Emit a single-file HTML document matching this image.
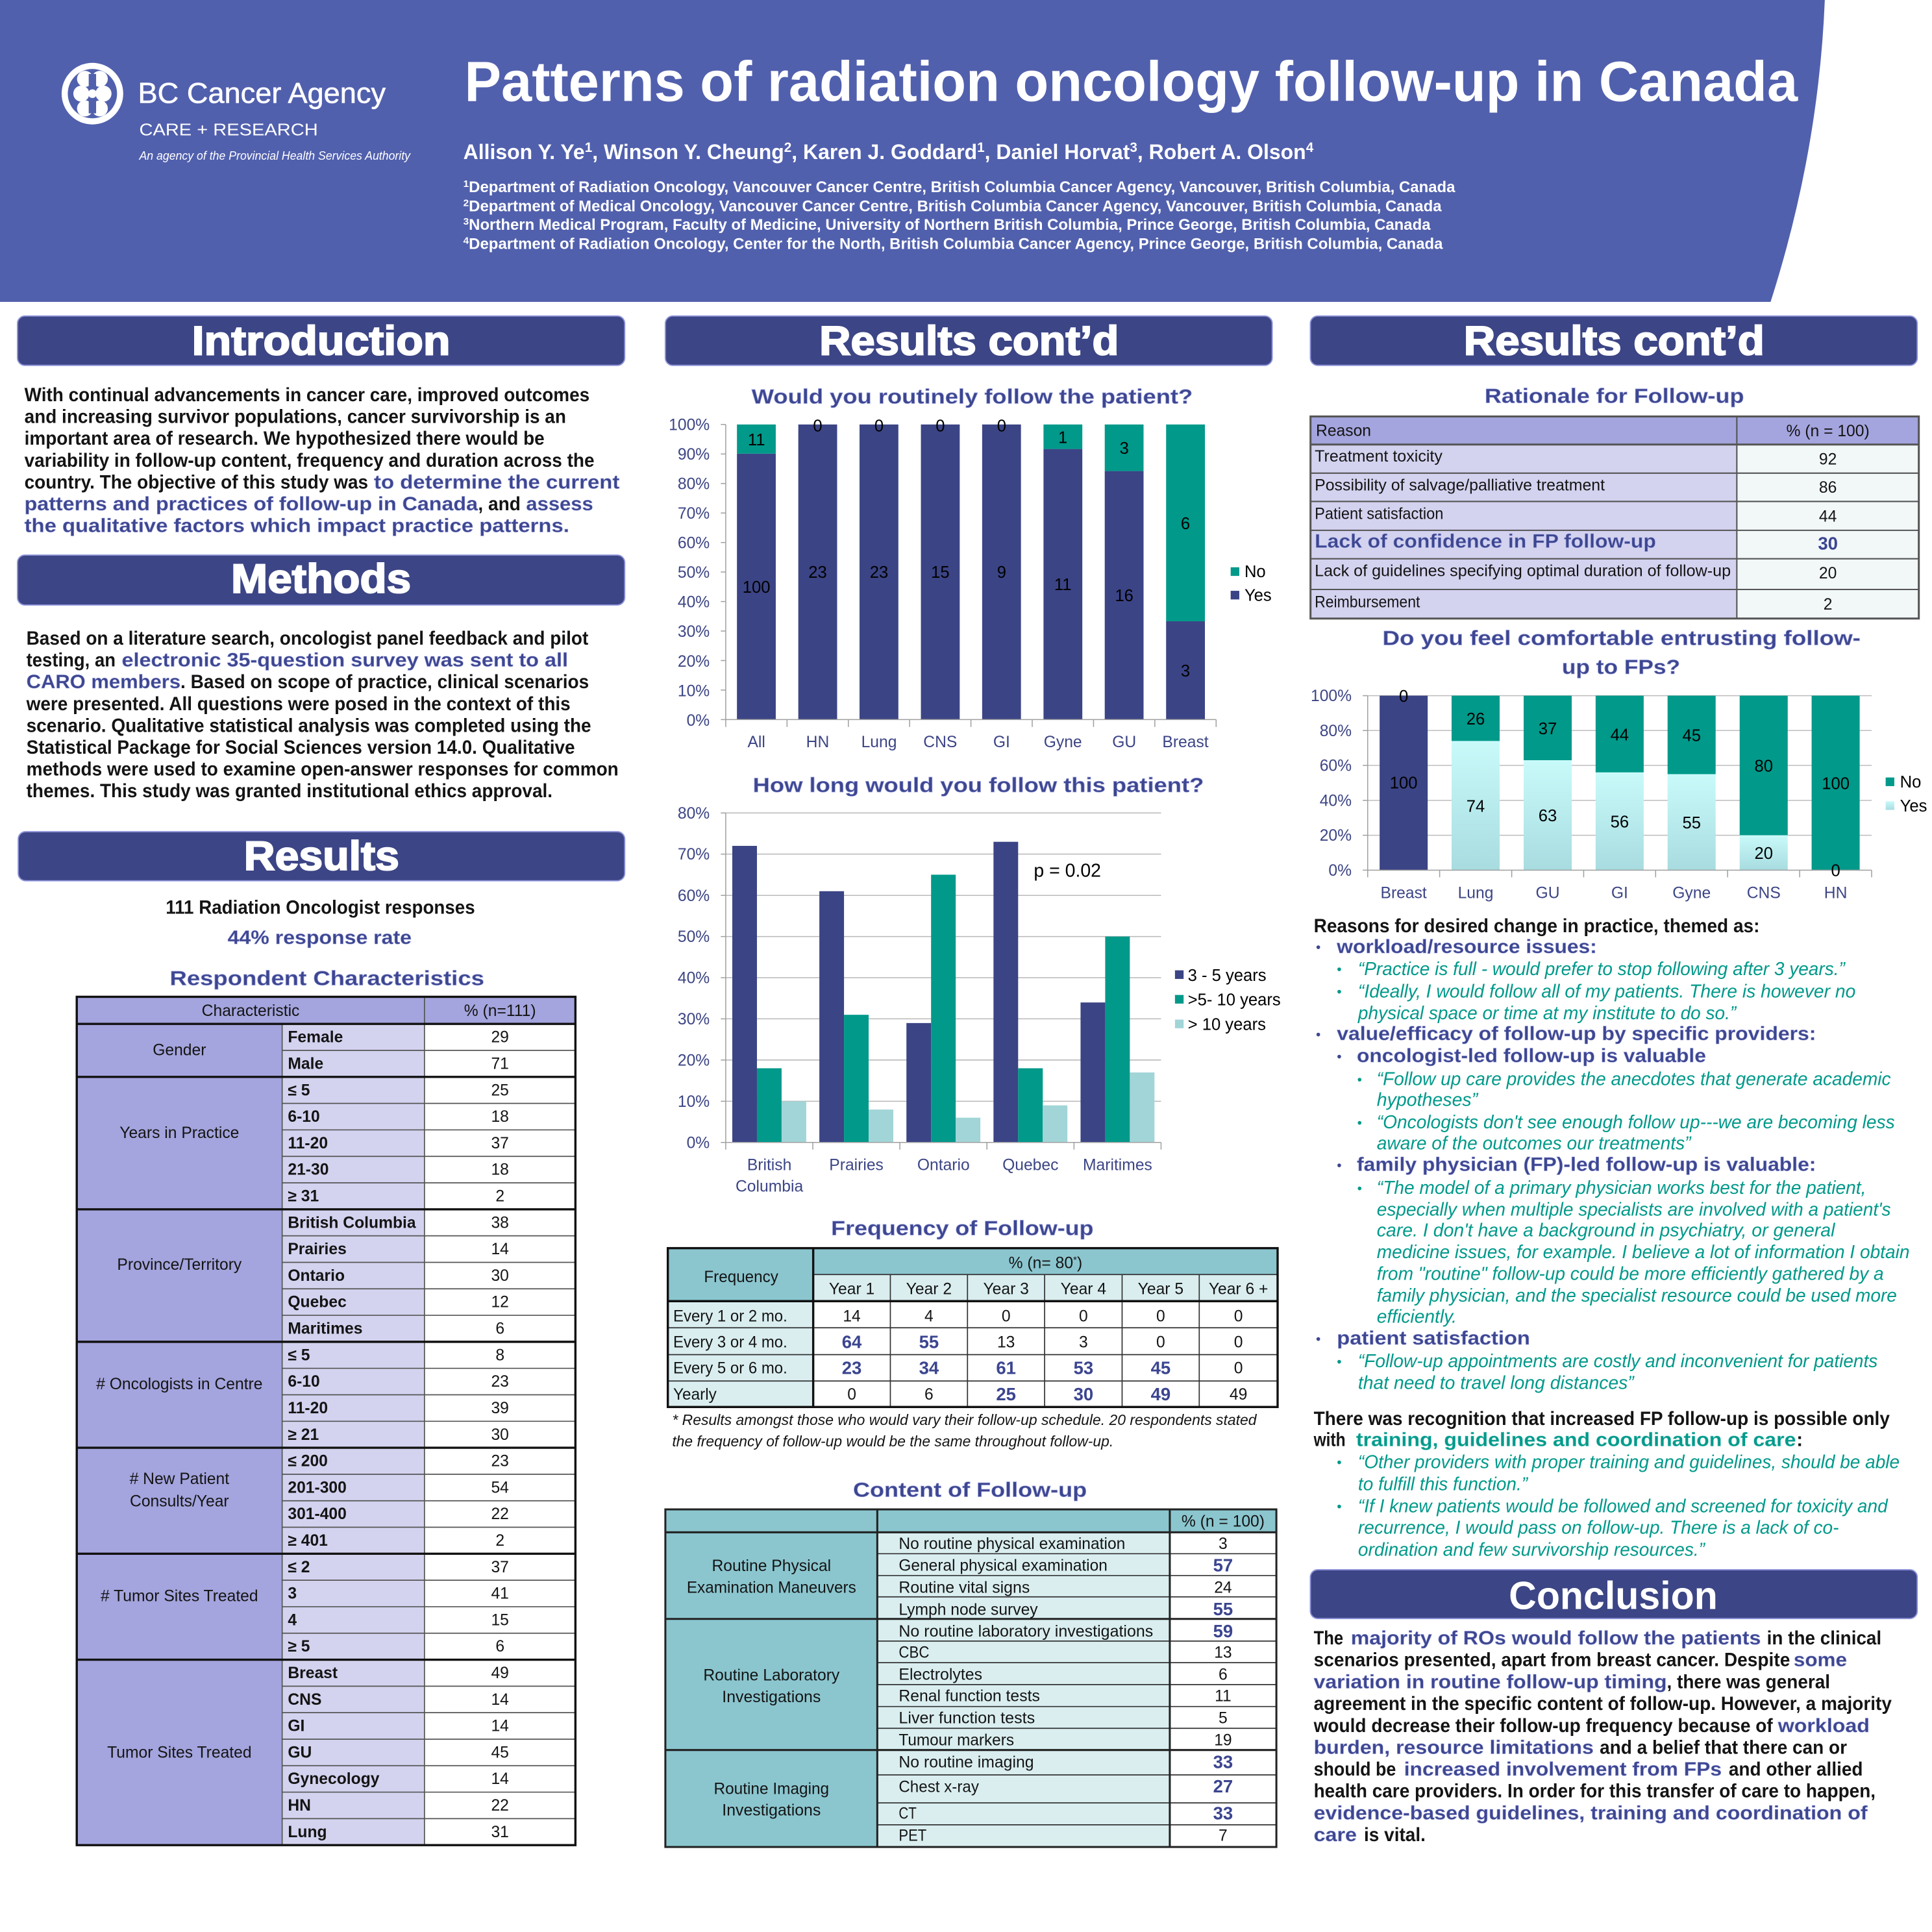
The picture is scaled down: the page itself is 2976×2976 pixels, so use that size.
<!DOCTYPE html>
<html><head><meta charset="utf-8"><style>
html,body{margin:0;padding:0;background:#fff;}
body{width:2976px;height:2976px;overflow:hidden;}
svg{display:block;}
text{font-family:"Liberation Sans",Arial,sans-serif;}
.b{font-weight:bold;fill:#141414;font-size:15.5px;}
.h{font-weight:bold;fill:#3d468f;font-size:15.5px;stroke:#9aa0dc;stroke-width:0.3px;}
.g{font-weight:bold;fill:#00998a;font-size:15.5px;stroke:#7fd0c8;stroke-width:0.3px;}
.q{font-style:italic;fill:#00998a;font-size:15px;}
.t{font-size:13px;fill:#141414;}
.tb{font-size:13px;fill:#141414;font-weight:bold;}
.v{font-size:14.5px;fill:#3b4590;font-weight:bold;}
.ax{font-size:13px;fill:#3c4585;}
.dl{font-size:13.5px;fill:#000;}
.sec{font-weight:bold;fill:#fff;font-size:33px;stroke:#fff;stroke-width:1.1px;}
.ttl{font-weight:bold;fill:#3d468f;font-size:16.5px;stroke:#9aa0dc;stroke-width:0.35px;}
</style></head><body>
<svg width="2976" height="2976" viewBox="0 0 1568 1568" xmlns="http://www.w3.org/2000/svg">
<defs>
<linearGradient id="yg" x1="0" y1="0" x2="0" y2="1"><stop offset="0" stop-color="#c9fafa"/><stop offset="1" stop-color="#a8dce0"/></linearGradient>
</defs>
<rect x="0" y="0" width="1568" height="1568" fill="#fff"/>

<!-- HEADER -->
<path d="M0 0 H1481 Q1476 123 1437 245 H0 Z" fill="#5160ad"/>
<circle cx="75" cy="76" r="25" fill="#fff"/>
<circle cx="75" cy="76" r="20" fill="#5160ad"/>
<circle cx="69" cy="64" r="6.5" fill="#fff"/>
<circle cx="81" cy="64" r="6.5" fill="#fff"/>
<circle cx="66" cy="76" r="6.5" fill="#fff"/>
<circle cx="84" cy="76" r="6.5" fill="#fff"/>
<circle cx="69" cy="88" r="6.5" fill="#fff"/>
<circle cx="81" cy="88" r="6.5" fill="#fff"/>
<rect x="72" y="60" width="6" height="32" fill="#5160ad"/>
<circle cx="75" cy="76" r="3.5" fill="#fff"/>
<text x="112" y="83.5" font-size="23.5" fill="#fff" stroke="#fff" stroke-width="0.3" textLength="201" lengthAdjust="spacingAndGlyphs">BC Cancer Agency</text>
<text x="113" y="109.8" font-size="13.5" fill="#fff" textLength="145" lengthAdjust="spacingAndGlyphs">CARE + RESEARCH</text>
<text x="113" y="129.5" font-size="9.5" font-style="italic" fill="#fff" textLength="220" lengthAdjust="spacingAndGlyphs">An agency of the Provincial Health Services Authority</text>

<text x="377" y="82" font-size="46" font-weight="bold" fill="#fff" textLength="1082" lengthAdjust="spacingAndGlyphs">Patterns of radiation oncology follow-up in Canada</text>
<text x="376" y="129" font-size="17" font-weight="bold" fill="#fff" textLength="690" lengthAdjust="spacingAndGlyphs">Allison Y. Ye<tspan font-size="11" baseline-shift="super">1</tspan>, Winson Y. Cheung<tspan font-size="11" baseline-shift="super">2</tspan>, Karen J. Goddard<tspan font-size="11" baseline-shift="super">1</tspan>, Daniel Horvat<tspan font-size="11" baseline-shift="super">3</tspan>, Robert A. Olson<tspan font-size="11" baseline-shift="super">4</tspan></text>
<text x="376" y="156" font-size="12.5" font-weight="bold" fill="#fff" textLength="805" lengthAdjust="spacingAndGlyphs"><tspan font-size="8" baseline-shift="super">1</tspan>Department of Radiation Oncology, Vancouver Cancer Centre, British Columbia Cancer Agency, Vancouver, British Columbia, Canada</text>
<text x="376" y="171.5" font-size="12.5" font-weight="bold" fill="#fff" textLength="794" lengthAdjust="spacingAndGlyphs"><tspan font-size="8" baseline-shift="super">2</tspan>Department of Medical Oncology, Vancouver Cancer Centre, British Columbia Cancer Agency, Vancouver, British Columbia, Canada</text>
<text x="376" y="186.5" font-size="12.5" font-weight="bold" fill="#fff" textLength="785" lengthAdjust="spacingAndGlyphs"><tspan font-size="8" baseline-shift="super">3</tspan>Northern Medical Program, Faculty of Medicine, University of Northern British Columbia, Prince George, British Columbia, Canada</text>
<text x="376" y="202" font-size="12.5" font-weight="bold" fill="#fff" textLength="795" lengthAdjust="spacingAndGlyphs"><tspan font-size="8" baseline-shift="super">4</tspan>Department of Radiation Oncology, Center for the North, British Columbia Cancer Agency, Prince George, British Columbia, Canada</text>

<!-- SECTION HEADERS -->
<g fill="#3c4585" stroke="#8d93d8" stroke-width="1">
<rect x="14.2" y="256.5" width="492.8" height="40" rx="6"/>
<rect x="14.2" y="450.5" width="492.8" height="40.5" rx="6"/>
<rect x="14.8" y="675" width="492.2" height="39.8" rx="6"/>
<rect x="540" y="256.5" width="492.5" height="40" rx="6"/>
<rect x="1063.5" y="256.5" width="492.5" height="40" rx="6"/>
<rect x="1063.5" y="1274" width="492.5" height="39.6" rx="6"/>
</g>
<text class="sec" x="260.6" y="288" text-anchor="middle" textLength="209.7" lengthAdjust="spacingAndGlyphs">Introduction</text>
<text class="sec" x="260.6" y="481" text-anchor="middle" textLength="146" lengthAdjust="spacingAndGlyphs">Methods</text>
<text class="sec" x="261" y="706" text-anchor="middle" textLength="126" lengthAdjust="spacingAndGlyphs">Results</text>
<text class="sec" x="786.5" y="288" text-anchor="middle" textLength="243" lengthAdjust="spacingAndGlyphs">Results cont’d</text>
<text class="sec" x="1310" y="288" text-anchor="middle" textLength="244" lengthAdjust="spacingAndGlyphs">Results cont’d</text>
<text x="1309.3" y="1306" text-anchor="middle" font-size="32" font-weight="bold" fill="#fff" textLength="169.5" lengthAdjust="spacingAndGlyphs">Conclusion</text>

<!-- INTRODUCTION -->
<text class="b" x="19.8" y="325.6" textLength="458.7" lengthAdjust="spacingAndGlyphs">With continual advancements in cancer care, improved outcomes</text>
<text class="b" x="19.8" y="343.3" textLength="439.6" lengthAdjust="spacingAndGlyphs">and increasing survivor populations, cancer survivorship is an</text>
<text class="b" x="19.8" y="361" textLength="422.1" lengthAdjust="spacingAndGlyphs">important area of research. We hypothesized there would be</text>
<text class="b" x="19.8" y="378.7" textLength="462.6" lengthAdjust="spacingAndGlyphs">variability in follow-up content, frequency and duration across the</text>
<text class="b" x="19.8" y="396.4" textLength="279" lengthAdjust="spacingAndGlyphs">country. The objective of this study was</text>
<text class="h" x="303.5" y="396.4" textLength="199.3" lengthAdjust="spacingAndGlyphs">to determine the current</text>
<text class="h" x="19.8" y="414.1" textLength="368" lengthAdjust="spacingAndGlyphs">patterns and practices of follow-up in Canada</text>
<text class="b" x="388" y="414.1" textLength="34.5" lengthAdjust="spacingAndGlyphs">, and</text>
<text class="h" x="427" y="414.1" textLength="54.4" lengthAdjust="spacingAndGlyphs">assess</text>
<text class="h" x="19.8" y="431.8" textLength="442.2" lengthAdjust="spacingAndGlyphs">the qualitative factors which impact practice patterns.</text>

<!-- METHODS -->
<text class="b" x="21.4" y="523.2" textLength="456.1" lengthAdjust="spacingAndGlyphs">Based on a literature search, oncologist panel feedback and pilot</text>
<text class="b" x="21.4" y="540.9" textLength="72.4" lengthAdjust="spacingAndGlyphs">testing, an</text>
<text class="h" x="98.8" y="540.9" textLength="362.2" lengthAdjust="spacingAndGlyphs">electronic 35-question survey was sent to all</text>
<text class="h" x="21.4" y="558.6" textLength="125.1" lengthAdjust="spacingAndGlyphs">CARO members</text>
<text class="b" x="146.5" y="558.6" textLength="331.5" lengthAdjust="spacingAndGlyphs">. Based on scope of practice, clinical scenarios</text>
<text class="b" x="21.4" y="576.3" textLength="441.6" lengthAdjust="spacingAndGlyphs">were presented. All questions were posed in the context of this</text>
<text class="b" x="21.4" y="594" textLength="458.4" lengthAdjust="spacingAndGlyphs">scenario. Qualitative statistical analysis was completed using the</text>
<text class="b" x="21.4" y="611.7" textLength="445.2" lengthAdjust="spacingAndGlyphs">Statistical Package for Social Sciences version 14.0. Qualitative</text>
<text class="b" x="21.4" y="629.4" textLength="480.6" lengthAdjust="spacingAndGlyphs">methods were used to examine open-answer responses for common</text>
<text class="b" x="21.4" y="647.1" textLength="427" lengthAdjust="spacingAndGlyphs">themes. This study was granted institutional ethics approval.</text>

<!-- RESULTS LEFT -->
<text class="b" x="260" y="741.7" text-anchor="middle" textLength="251" lengthAdjust="spacingAndGlyphs">111 Radiation Oncologist responses</text>
<text class="h" x="259.4" y="766" text-anchor="middle" font-size="15" textLength="149.3" lengthAdjust="spacingAndGlyphs">44% response rate</text>
<text class="ttl" x="265.4" y="799.5" text-anchor="middle" font-size="17" textLength="255.2" lengthAdjust="spacingAndGlyphs">Respondent Characteristics</text>

<!-- Respondent table -->
<rect x="62.3" y="809" width="404.7" height="688.5" fill="#a4a4de"/>
<rect x="229" y="831" width="115.5" height="666.5" fill="#d3d3f0"/>
<rect x="344.5" y="831" width="122.5" height="666.5" fill="#fff"/>
<g stroke="#555" stroke-width="0.9">
<line x1="229" y1="852.5" x2="467" y2="852.5"/>
<line x1="229" y1="895.5" x2="467" y2="895.5"/>
<line x1="229" y1="917" x2="467" y2="917"/>
<line x1="229" y1="938.5" x2="467" y2="938.5"/>
<line x1="229" y1="960" x2="467" y2="960"/>
<line x1="229" y1="1003" x2="467" y2="1003"/>
<line x1="229" y1="1024.5" x2="467" y2="1024.5"/>
<line x1="229" y1="1046" x2="467" y2="1046"/>
<line x1="229" y1="1067.5" x2="467" y2="1067.5"/>
<line x1="229" y1="1110.5" x2="467" y2="1110.5"/>
<line x1="229" y1="1132" x2="467" y2="1132"/>
<line x1="229" y1="1153.5" x2="467" y2="1153.5"/>
<line x1="229" y1="1196.5" x2="467" y2="1196.5"/>
<line x1="229" y1="1218" x2="467" y2="1218"/>
<line x1="229" y1="1239.5" x2="467" y2="1239.5"/>
<line x1="229" y1="1282.5" x2="467" y2="1282.5"/>
<line x1="229" y1="1304" x2="467" y2="1304"/>
<line x1="229" y1="1325.5" x2="467" y2="1325.5"/>
<line x1="229" y1="1368.5" x2="467" y2="1368.5"/>
<line x1="229" y1="1390" x2="467" y2="1390"/>
<line x1="229" y1="1411.5" x2="467" y2="1411.5"/>
<line x1="229" y1="1433" x2="467" y2="1433"/>
<line x1="229" y1="1454.5" x2="467" y2="1454.5"/>
<line x1="229" y1="1476" x2="467" y2="1476"/>
<line x1="229" y1="831" x2="229" y2="1497.5"/>
<line x1="344.5" y1="809" x2="344.5" y2="1497.5"/>
</g>
<g stroke="#111" stroke-width="1.8">
<line x1="62.3" y1="831" x2="467" y2="831"/>
<line x1="62.3" y1="874" x2="467" y2="874"/>
<line x1="62.3" y1="981.5" x2="467" y2="981.5"/>
<line x1="62.3" y1="1089" x2="467" y2="1089"/>
<line x1="62.3" y1="1175" x2="467" y2="1175"/>
<line x1="62.3" y1="1261" x2="467" y2="1261"/>
<line x1="62.3" y1="1347" x2="467" y2="1347"/>
<rect x="62.3" y="809" width="404.7" height="688.5" fill="none"/>
</g>
<text class="t" x="203.4" y="824.5" text-anchor="middle">Characteristic</text>
<text class="t" x="405.8" y="824.5" text-anchor="middle">% (n=111)</text>
<g class="t" text-anchor="middle">
<text x="145.6" y="856.5">Gender</text>
<text x="145.6" y="923.5">Years in Practice</text>
<text x="145.6" y="1030.5">Province/Territory</text>
<text x="145.6" y="1127.5"># Oncologists in Centre</text>
<text x="145.6" y="1204.5"># New Patient</text>
<text x="145.6" y="1222.5">Consults/Year</text>
<text x="145.6" y="1299.5"># Tumor Sites Treated</text>
<text x="145.6" y="1426.5">Tumor Sites Treated</text>
</g>
<g class="tb">
<text x="233.6" y="846">Female</text>
<text x="233.6" y="867.5">Male</text>
<text x="233.6" y="889">≤ 5</text>
<text x="233.6" y="910.5">6-10</text>
<text x="233.6" y="932">11-20</text>
<text x="233.6" y="953.5">21-30</text>
<text x="233.6" y="975">≥ 31</text>
<text x="233.6" y="996.5">British Columbia</text>
<text x="233.6" y="1018">Prairies</text>
<text x="233.6" y="1039.5">Ontario</text>
<text x="233.6" y="1061">Quebec</text>
<text x="233.6" y="1082.5">Maritimes</text>
<text x="233.6" y="1104">≤ 5</text>
<text x="233.6" y="1125.5">6-10</text>
<text x="233.6" y="1147">11-20</text>
<text x="233.6" y="1168.5">≥ 21</text>
<text x="233.6" y="1190">≤ 200</text>
<text x="233.6" y="1211.5">201-300</text>
<text x="233.6" y="1233">301-400</text>
<text x="233.6" y="1254.5">≥ 401</text>
<text x="233.6" y="1276">≤ 2</text>
<text x="233.6" y="1297.5">3</text>
<text x="233.6" y="1319">4</text>
<text x="233.6" y="1340.5">≥ 5</text>
<text x="233.6" y="1362">Breast</text>
<text x="233.6" y="1383.5">CNS</text>
<text x="233.6" y="1405">GI</text>
<text x="233.6" y="1426.5">GU</text>
<text x="233.6" y="1448">Gynecology</text>
<text x="233.6" y="1469.5">HN</text>
<text x="233.6" y="1491">Lung</text>
</g>
<g class="t" text-anchor="middle">
<text x="405.8" y="846">29</text>
<text x="405.8" y="867.5">71</text>
<text x="405.8" y="889">25</text>
<text x="405.8" y="910.5">18</text>
<text x="405.8" y="932">37</text>
<text x="405.8" y="953.5">18</text>
<text x="405.8" y="975">2</text>
<text x="405.8" y="996.5">38</text>
<text x="405.8" y="1018">14</text>
<text x="405.8" y="1039.5">30</text>
<text x="405.8" y="1061">12</text>
<text x="405.8" y="1082.5">6</text>
<text x="405.8" y="1104">8</text>
<text x="405.8" y="1125.5">23</text>
<text x="405.8" y="1147">39</text>
<text x="405.8" y="1168.5">30</text>
<text x="405.8" y="1190">23</text>
<text x="405.8" y="1211.5">54</text>
<text x="405.8" y="1233">22</text>
<text x="405.8" y="1254.5">2</text>
<text x="405.8" y="1276">37</text>
<text x="405.8" y="1297.5">41</text>
<text x="405.8" y="1319">15</text>
<text x="405.8" y="1340.5">6</text>
<text x="405.8" y="1362">49</text>
<text x="405.8" y="1383.5">14</text>
<text x="405.8" y="1405">14</text>
<text x="405.8" y="1426.5">45</text>
<text x="405.8" y="1448">14</text>
<text x="405.8" y="1469.5">22</text>
<text x="405.8" y="1491">31</text>
</g>

<!-- CHART 1 -->
<text class="ttl" x="789" y="327.4" text-anchor="middle" textLength="358" lengthAdjust="spacingAndGlyphs">Would you routinely follow the patient?</text>
<g fill="#3b4485">
<rect x="598.1" y="368.2" width="31.5" height="215.8"/>
<rect x="647.9" y="344.5" width="31.5" height="239.5"/>
<rect x="697.6" y="344.5" width="31.5" height="239.5"/>
<rect x="747.4" y="344.5" width="31.5" height="239.5"/>
<rect x="797.1" y="344.5" width="31.5" height="239.5"/>
<rect x="846.9" y="364.4" width="31.5" height="219.6"/>
<rect x="896.6" y="382.3" width="31.5" height="201.7"/>
<rect x="946.4" y="504.2" width="31.5" height="79.8"/>
</g>
<g fill="#00998a">
<rect x="598.1" y="344.5" width="31.5" height="23.7"/>
<rect x="846.9" y="344.5" width="31.5" height="19.9"/>
<rect x="896.6" y="344.5" width="31.5" height="37.8"/>
<rect x="946.4" y="344.5" width="31.5" height="159.7"/>
</g>
<g stroke="#a0a0a0" stroke-width="0.8">
<line x1="589" y1="344.5" x2="589" y2="584"/>
<line x1="589" y1="584" x2="987" y2="584"/>
<line x1="585" y1="344.5" x2="589" y2="344.5"/><line x1="585" y1="368.45" x2="589" y2="368.45"/><line x1="585" y1="392.4" x2="589" y2="392.4"/><line x1="585" y1="416.35" x2="589" y2="416.35"/><line x1="585" y1="440.3" x2="589" y2="440.3"/><line x1="585" y1="464.25" x2="589" y2="464.25"/><line x1="585" y1="488.2" x2="589" y2="488.2"/><line x1="585" y1="512.15" x2="589" y2="512.15"/><line x1="585" y1="536.1" x2="589" y2="536.1"/><line x1="585" y1="560.05" x2="589" y2="560.05"/><line x1="585" y1="584" x2="589" y2="584"/>
<line x1="589" y1="584" x2="589" y2="590"/><line x1="638.75" y1="584" x2="638.75" y2="590"/><line x1="688.5" y1="584" x2="688.5" y2="590"/><line x1="738.25" y1="584" x2="738.25" y2="590"/><line x1="788" y1="584" x2="788" y2="590"/><line x1="837.75" y1="584" x2="837.75" y2="590"/><line x1="887.5" y1="584" x2="887.5" y2="590"/><line x1="937.25" y1="584" x2="937.25" y2="590"/><line x1="987" y1="584" x2="987" y2="590"/>
</g>
<g class="ax" text-anchor="end">
<text x="576" y="349">100%</text><text x="576" y="373">90%</text><text x="576" y="397">80%</text><text x="576" y="421">70%</text><text x="576" y="445">60%</text><text x="576" y="469">50%</text><text x="576" y="493">40%</text><text x="576" y="517">30%</text><text x="576" y="541">20%</text><text x="576" y="565">10%</text><text x="576" y="589">0%</text>
</g>
<g class="dl" text-anchor="middle">
<text x="613.9" y="361.4">11</text><text x="613.9" y="481">100</text>
<text x="663.6" y="350">0</text><text x="663.6" y="469">23</text>
<text x="713.4" y="350">0</text><text x="713.4" y="469">23</text>
<text x="763.1" y="350">0</text><text x="763.1" y="469">15</text>
<text x="812.9" y="350">0</text><text x="812.9" y="469">9</text>
<text x="862.6" y="359.5">1</text><text x="862.6" y="479">11</text>
<text x="912.4" y="368.4">3</text><text x="912.4" y="488">16</text>
<text x="962.1" y="429.4">6</text><text x="962.1" y="549">3</text>
</g>
<g class="ax" text-anchor="middle">
<text x="613.9" y="606.5">All</text><text x="663.6" y="606.5">HN</text><text x="713.4" y="606.5">Lung</text><text x="763.1" y="606.5">CNS</text><text x="812.9" y="606.5">GI</text><text x="862.6" y="606.5">Gyne</text><text x="912.4" y="606.5">GU</text><text x="962.1" y="606.5">Breast</text>
</g>
<rect x="998.8" y="460.4" width="7" height="7" fill="#00998a"/>
<rect x="998.8" y="479.5" width="7" height="7" fill="#3b4485"/>
<text class="dl" x="1010" y="468.5">No</text>
<text class="dl" x="1010" y="487.7">Yes</text>

<!-- CHART 2 -->
<text class="ttl" x="794" y="642.7" text-anchor="middle" textLength="366" lengthAdjust="spacingAndGlyphs">How long would you follow this patient?</text>
<g stroke="#b8b8b8" stroke-width="0.8">
<line x1="589" y1="893.8" x2="942.3" y2="893.8"/><line x1="589" y1="860.3" x2="942.3" y2="860.3"/><line x1="589" y1="826.9" x2="942.3" y2="826.9"/><line x1="589" y1="793.5" x2="942.3" y2="793.5"/><line x1="589" y1="760.1" x2="942.3" y2="760.1"/><line x1="589" y1="726.7" x2="942.3" y2="726.7"/><line x1="589" y1="693.2" x2="942.3" y2="693.2"/><line x1="589" y1="659.8" x2="942.3" y2="659.8"/>
</g>
<g fill="#3b4485">
<rect x="594.33" y="686.5" width="20" height="240.7"/>
<rect x="664.99" y="723.3" width="20" height="203.9"/>
<rect x="735.65" y="830.3" width="20" height="96.9"/>
<rect x="806.31" y="683.2" width="20" height="244"/>
<rect x="876.97" y="813.6" width="20" height="113.6"/>
</g>
<g fill="#00998a">
<rect x="614.33" y="867" width="20" height="60.2"/>
<rect x="684.99" y="823.6" width="20" height="103.6"/>
<rect x="755.65" y="709.9" width="20" height="217.3"/>
<rect x="826.31" y="867" width="20" height="60.2"/>
<rect x="896.97" y="760.1" width="20" height="167.1"/>
</g>
<g fill="#a2d5d8">
<rect x="634.33" y="893.8" width="20" height="33.4"/>
<rect x="704.99" y="900.5" width="20" height="26.7"/>
<rect x="775.65" y="907.1" width="20" height="20.1"/>
<rect x="846.31" y="897.1" width="20" height="30.1"/>
<rect x="916.97" y="870.4" width="20" height="56.8"/>
</g>
<g stroke="#a0a0a0" stroke-width="0.8">
<line x1="589" y1="659.8" x2="589" y2="927.2"/>
<line x1="589" y1="927.2" x2="942.3" y2="927.2"/>
<line x1="585" y1="659.8" x2="589" y2="659.8"/><line x1="585" y1="693.2" x2="589" y2="693.2"/><line x1="585" y1="726.7" x2="589" y2="726.7"/><line x1="585" y1="760.1" x2="589" y2="760.1"/><line x1="585" y1="793.5" x2="589" y2="793.5"/><line x1="585" y1="826.9" x2="589" y2="826.9"/><line x1="585" y1="860.3" x2="589" y2="860.3"/><line x1="585" y1="893.8" x2="589" y2="893.8"/><line x1="585" y1="927.2" x2="589" y2="927.2"/>
<line x1="589" y1="927.2" x2="589" y2="933"/><line x1="659.66" y1="927.2" x2="659.66" y2="933"/><line x1="730.32" y1="927.2" x2="730.32" y2="933"/><line x1="800.98" y1="927.2" x2="800.98" y2="933"/><line x1="871.64" y1="927.2" x2="871.64" y2="933"/><line x1="942.3" y1="927.2" x2="942.3" y2="933"/>
</g>
<g class="ax" text-anchor="end">
<text x="576" y="664.3">80%</text><text x="576" y="697.7">70%</text><text x="576" y="731.2">60%</text><text x="576" y="764.6">50%</text><text x="576" y="798">40%</text><text x="576" y="831.4">30%</text><text x="576" y="864.8">20%</text><text x="576" y="898.3">10%</text><text x="576" y="931.7">0%</text>
</g>
<g class="ax" text-anchor="middle">
<text x="624.4" y="949.8">British</text><text x="624.4" y="967">Columbia</text>
<text x="695" y="949.8">Prairies</text><text x="765.7" y="949.8">Ontario</text><text x="836.3" y="949.8">Quebec</text><text x="907" y="949.8">Maritimes</text>
</g>
<text x="839" y="711.5" font-size="15" fill="#000">p = 0.02</text>
<rect x="953.6" y="787.5" width="7" height="7" fill="#3b4485"/>
<rect x="953.6" y="807.5" width="7" height="7" fill="#00998a"/>
<rect x="953.6" y="827.5" width="7" height="7" fill="#a2d5d8"/>
<text class="dl" x="964" y="796">3 - 5 years</text>
<text class="dl" x="964" y="816">&gt;5- 10 years</text>
<text class="dl" x="964" y="836">&gt; 10 years</text>

<!-- FREQUENCY TABLE -->
<text class="ttl" x="781" y="1002.5" text-anchor="middle" textLength="213" lengthAdjust="spacingAndGlyphs">Frequency of Follow-up</text>
<rect x="542" y="1013" width="494.9" height="128.9" fill="#fff"/>
<rect x="542" y="1013" width="494.9" height="21.4" fill="#8bc6cf"/>
<rect x="542" y="1013" width="118" height="43" fill="#8bc6cf"/>
<rect x="660" y="1034.4" width="376.9" height="21.6" fill="#daeef0"/>
<rect x="542" y="1056" width="118" height="85.9" fill="#daeef0"/>
<g stroke="#333" stroke-width="0.9">
<line x1="660" y1="1034.4" x2="1036.9" y2="1034.4"/>
<line x1="542" y1="1077.6" x2="1036.9" y2="1077.6"/>
<line x1="542" y1="1099.4" x2="1036.9" y2="1099.4"/>
<line x1="542" y1="1120.8" x2="1036.9" y2="1120.8"/>
<line x1="722.6" y1="1034.4" x2="722.6" y2="1141.9"/>
<line x1="785.2" y1="1034.4" x2="785.2" y2="1141.9"/>
<line x1="847.8" y1="1034.4" x2="847.8" y2="1141.9"/>
<line x1="910.7" y1="1034.4" x2="910.7" y2="1141.9"/>
<line x1="973.3" y1="1034.4" x2="973.3" y2="1141.9"/>
</g>
<g stroke="#111" stroke-width="1.8" fill="none">
<rect x="542" y="1013" width="494.9" height="128.9"/>
<line x1="542" y1="1056" x2="1036.9" y2="1056"/>
<line x1="660" y1="1013" x2="660" y2="1141.9"/>
</g>
<text class="t" x="601.5" y="1040.7" text-anchor="middle" font-size="13.5" textLength="60.3" lengthAdjust="spacingAndGlyphs">Frequency</text>
<text class="t" x="848.5" y="1029.3" text-anchor="middle" font-size="13.5">% (n= 80<tspan font-size="8" baseline-shift="super">*</tspan>)</text>
<g class="t" text-anchor="middle" font-size="13.5">
<text x="691.3" y="1050.3">Year 1</text><text x="753.9" y="1050.3">Year 2</text><text x="816.5" y="1050.3">Year 3</text><text x="879.3" y="1050.3">Year 4</text><text x="942" y="1050.3">Year 5</text><text x="1005.1" y="1050.3">Year 6 +</text>
</g>
<g class="t" font-size="13.5">
<text x="546.4" y="1072.5" textLength="92.6" lengthAdjust="spacingAndGlyphs">Every 1 or 2 mo.</text>
<text x="546.4" y="1093.6" textLength="92.6" lengthAdjust="spacingAndGlyphs">Every 3 or 4 mo.</text>
<text x="546.4" y="1114.7" textLength="92.6" lengthAdjust="spacingAndGlyphs">Every 5 or 6 mo.</text>
<text x="546.4" y="1136" textLength="35.2" lengthAdjust="spacingAndGlyphs">Yearly</text>
</g>
<g class="t" text-anchor="middle" font-size="13.5">
<text x="691.3" y="1072.5">14</text><text x="753.9" y="1072.5">4</text><text x="816.5" y="1072.5">0</text><text x="879.3" y="1072.5">0</text><text x="942" y="1072.5">0</text><text x="1005.1" y="1072.5">0</text>
<text x="816.5" y="1093.6">13</text><text x="879.3" y="1093.6">3</text><text x="942" y="1093.6">0</text><text x="1005.1" y="1093.6">0</text>
<text x="1005.1" y="1114.7">0</text>
<text x="691.3" y="1136">0</text><text x="753.9" y="1136">6</text><text x="1005.1" y="1136">49</text>
</g>
<g class="v" text-anchor="middle">
<text x="691.3" y="1094">64</text><text x="753.9" y="1094">55</text>
<text x="691.3" y="1115.2">23</text><text x="753.9" y="1115.2">34</text><text x="816.5" y="1115.2">61</text><text x="879.3" y="1115.2">53</text><text x="942" y="1115.2">45</text>
<text x="816.5" y="1136.5">25</text><text x="879.3" y="1136.5">30</text><text x="942" y="1136.5">49</text>
</g>
<text x="545.5" y="1156.5" font-size="12.3" font-style="italic" fill="#141414" textLength="474.3" lengthAdjust="spacingAndGlyphs">* Results amongst those who would vary their follow-up schedule. 20 respondents stated</text>
<text x="545.5" y="1174" font-size="12.3" font-style="italic" fill="#141414" textLength="358.2" lengthAdjust="spacingAndGlyphs">the frequency of follow-up would be the same throughout follow-up.</text>

<!-- CONTENT TABLE -->
<text class="ttl" x="787.2" y="1214.6" text-anchor="middle" textLength="189.7" lengthAdjust="spacingAndGlyphs">Content of Follow-up</text>
<rect x="540" y="1225" width="495.9" height="274" fill="#8bc6cf"/>
<rect x="712" y="1243.6" width="237.4" height="255.4" fill="#daeef0"/>
<rect x="949.4" y="1243.6" width="86.5" height="255.4" fill="#fff"/>
<g stroke="#333" stroke-width="0.9">
<line x1="712" y1="1261" x2="1035.9" y2="1261"/>
<line x1="712" y1="1278.7" x2="1035.9" y2="1278.7"/>
<line x1="712" y1="1296" x2="1035.9" y2="1296"/>
<line x1="712" y1="1331.9" x2="1035.9" y2="1331.9"/>
<line x1="712" y1="1349.4" x2="1035.9" y2="1349.4"/>
<line x1="712" y1="1367.2" x2="1035.9" y2="1367.2"/>
<line x1="712" y1="1385" x2="1035.9" y2="1385"/>
<line x1="712" y1="1402.7" x2="1035.9" y2="1402.7"/>
<line x1="712" y1="1440.5" x2="1035.9" y2="1440.5"/>
<line x1="712" y1="1463.2" x2="1035.9" y2="1463.2"/>
<line x1="712" y1="1481" x2="1035.9" y2="1481"/>
</g>
<g stroke="#222" stroke-width="1.6" fill="none">
<rect x="540" y="1225" width="495.9" height="274"/>
<line x1="540" y1="1243.6" x2="1035.9" y2="1243.6"/>
<line x1="540" y1="1313.9" x2="1035.9" y2="1313.9"/>
<line x1="540" y1="1420.3" x2="1035.9" y2="1420.3"/>
<line x1="712" y1="1225" x2="712" y2="1499"/>
<line x1="949.4" y1="1225" x2="949.4" y2="1499"/>
</g>
<text class="t" x="992.6" y="1239" text-anchor="middle" font-size="13">% (n = 100)</text>
<g class="t" text-anchor="middle" font-size="13.5">
<text x="626.1" y="1275" textLength="96.8" lengthAdjust="spacingAndGlyphs">Routine Physical</text>
<text x="626.1" y="1292.6" textLength="137.5" lengthAdjust="spacingAndGlyphs">Examination Maneuvers</text>
<text x="626.1" y="1363.8" textLength="110.6" lengthAdjust="spacingAndGlyphs">Routine Laboratory</text>
<text x="626.1" y="1381.4" textLength="80.1" lengthAdjust="spacingAndGlyphs">Investigations</text>
<text x="626.1" y="1456" textLength="93.6" lengthAdjust="spacingAndGlyphs">Routine Imaging</text>
<text x="626.1" y="1473.5" textLength="80.1" lengthAdjust="spacingAndGlyphs">Investigations</text>
</g>
<g class="t" font-size="13.5">
<text x="729.4" y="1257.1" textLength="183.9" lengthAdjust="spacingAndGlyphs">No routine physical examination</text>
<text x="729.4" y="1274.9" textLength="169.4" lengthAdjust="spacingAndGlyphs">General physical examination</text>
<text x="729.4" y="1292.6" textLength="106.4" lengthAdjust="spacingAndGlyphs">Routine vital signs</text>
<text x="729.4" y="1310.6" textLength="112.9" lengthAdjust="spacingAndGlyphs">Lymph node survey</text>
<text x="729.4" y="1328.3" textLength="206.5" lengthAdjust="spacingAndGlyphs">No routine laboratory investigations</text>
<text x="729.4" y="1345.5" textLength="24.8" lengthAdjust="spacingAndGlyphs">CBC</text>
<text x="729.4" y="1363.2" textLength="67.8" lengthAdjust="spacingAndGlyphs">Electrolytes</text>
<text x="729.4" y="1380.8" textLength="114.6" lengthAdjust="spacingAndGlyphs">Renal function tests</text>
<text x="729.4" y="1398.5" textLength="110.6" lengthAdjust="spacingAndGlyphs">Liver function tests</text>
<text x="729.4" y="1416.5" textLength="93.6" lengthAdjust="spacingAndGlyphs">Tumour markers</text>
<text x="729.4" y="1434.5" textLength="109.7" lengthAdjust="spacingAndGlyphs">No routine imaging</text>
<text x="729.4" y="1454.4" textLength="65.1" lengthAdjust="spacingAndGlyphs">Chest x-ray</text>
<text x="729.4" y="1476.1" textLength="14.5" lengthAdjust="spacingAndGlyphs">CT</text>
<text x="729.4" y="1494.1" textLength="22.6" lengthAdjust="spacingAndGlyphs">PET</text>
</g>
<g class="t" text-anchor="middle" font-size="13.5">
<text x="992.6" y="1257.1">3</text><text x="992.6" y="1292.6">24</text><text x="992.6" y="1345.5">13</text><text x="992.6" y="1363.2">6</text><text x="992.6" y="1380.8">11</text><text x="992.6" y="1398.5">5</text><text x="992.6" y="1416.5">19</text><text x="992.6" y="1494.1">7</text>
</g>
<g class="v" text-anchor="middle">
<text x="992.6" y="1275.4">57</text><text x="992.6" y="1311">55</text><text x="992.6" y="1328.7">59</text><text x="992.6" y="1434.9">33</text><text x="992.6" y="1454.8">27</text><text x="992.6" y="1476.5">33</text>
</g>

<!-- RATIONALE TABLE -->
<text class="ttl" x="1310.2" y="327" text-anchor="middle" textLength="210.5" lengthAdjust="spacingAndGlyphs">Rationale for Follow-up</text>
<rect x="1063.6" y="338" width="493.7" height="164" fill="#d3d3f0"/>
<rect x="1063.6" y="338" width="493.7" height="22.8" fill="#a4a4de"/>
<rect x="1409.6" y="360.8" width="147.7" height="141.2" fill="#f2f7f8"/>
<g stroke="#555" stroke-width="1.1" fill="none">
<line x1="1063.6" y1="384" x2="1557.3" y2="384"/>
<line x1="1063.6" y1="407" x2="1557.3" y2="407"/>
<line x1="1063.6" y1="430.4" x2="1557.3" y2="430.4"/>
<line x1="1063.6" y1="453.5" x2="1557.3" y2="453.5"/>
<line x1="1063.6" y1="478.4" x2="1557.3" y2="478.4"/>
<line x1="1063.6" y1="360.8" x2="1557.3" y2="360.8" stroke-width="1.6"/>
<line x1="1409.6" y1="338" x2="1409.6" y2="502"/>
<rect x="1063.6" y="338" width="493.7" height="164" stroke-width="1.6"/>
</g>
<text class="t" x="1068" y="353.8" font-size="13.5">Reason</text>
<text class="t" x="1483.5" y="354" text-anchor="middle" font-size="13.5">% (n = 100)</text>
<g class="t" font-size="13.5">
<text x="1067" y="374.7" textLength="103.7" lengthAdjust="spacingAndGlyphs">Treatment toxicity</text>
<text x="1067" y="398.1" textLength="235.5" lengthAdjust="spacingAndGlyphs">Possibility of salvage/palliative treatment</text>
<text x="1067" y="421.2" textLength="104.5" lengthAdjust="spacingAndGlyphs">Patient satisfaction</text>
<text x="1067" y="467.5" textLength="337.7" lengthAdjust="spacingAndGlyphs">Lack of guidelines specifying optimal duration of follow-up</text>
<text x="1067" y="492.9" textLength="85.5" lengthAdjust="spacingAndGlyphs">Reimbursement</text>
</g>
<text class="h" x="1067" y="444.5" font-size="14.5" textLength="277" lengthAdjust="spacingAndGlyphs">Lack of confidence in FP follow-up</text>
<g class="t" text-anchor="middle" font-size="13.5">
<text x="1483.5" y="377">92</text><text x="1483.5" y="400">86</text><text x="1483.5" y="423.3">44</text><text x="1483.5" y="469.5">20</text><text x="1483.5" y="494.7">2</text>
</g>
<text class="v" x="1483.5" y="446" text-anchor="middle" font-size="15">30</text>

<!-- CHART 3 -->
<text class="ttl" x="1316" y="523.4" text-anchor="middle" textLength="388" lengthAdjust="spacingAndGlyphs">Do you feel comfortable entrusting follow-</text>
<text class="ttl" x="1315.6" y="547" text-anchor="middle" textLength="96" lengthAdjust="spacingAndGlyphs">up to FPs?</text>
<g stroke="#bdbdbd" stroke-width="0.8">
<line x1="1110" y1="677.9" x2="1519" y2="677.9"/><line x1="1110" y1="649.6" x2="1519" y2="649.6"/><line x1="1110" y1="621.2" x2="1519" y2="621.2"/><line x1="1110" y1="592.9" x2="1519" y2="592.9"/><line x1="1110" y1="564.6" x2="1519" y2="564.6"/>
</g>
<rect x="1119.7" y="564.6" width="39" height="141.6" fill="#3b4485"/>
<g fill="#00998a">
<rect x="1178.1" y="564.6" width="39" height="36.8"/>
<rect x="1236.6" y="564.6" width="39" height="52.4"/>
<rect x="1295" y="564.6" width="39" height="62.3"/>
<rect x="1353.4" y="564.6" width="39" height="63.7"/>
<rect x="1411.9" y="564.6" width="39" height="113.3"/>
<rect x="1470.3" y="564.6" width="39" height="141.6"/>
</g>
<g fill="url(#yg)">
<rect x="1178.1" y="601.4" width="39" height="104.8"/>
<rect x="1236.6" y="617" width="39" height="89.2"/>
<rect x="1295" y="626.9" width="39" height="79.3"/>
<rect x="1353.4" y="628.3" width="39" height="77.9"/>
<rect x="1411.9" y="677.9" width="39" height="28.3"/>
</g>
<g stroke="#a0a0a0" stroke-width="0.8">
<line x1="1110" y1="564.6" x2="1110" y2="706.2"/>
<line x1="1110" y1="706.2" x2="1519" y2="706.2"/>
<line x1="1106" y1="564.6" x2="1110" y2="564.6"/><line x1="1106" y1="592.9" x2="1110" y2="592.9"/><line x1="1106" y1="621.2" x2="1110" y2="621.2"/><line x1="1106" y1="649.6" x2="1110" y2="649.6"/><line x1="1106" y1="677.9" x2="1110" y2="677.9"/><line x1="1106" y1="706.2" x2="1110" y2="706.2"/>
<line x1="1110" y1="706.2" x2="1110" y2="712"/><line x1="1168.4" y1="706.2" x2="1168.4" y2="712"/><line x1="1226.9" y1="706.2" x2="1226.9" y2="712"/><line x1="1285.3" y1="706.2" x2="1285.3" y2="712"/><line x1="1343.7" y1="706.2" x2="1343.7" y2="712"/><line x1="1402.1" y1="706.2" x2="1402.1" y2="712"/><line x1="1460.6" y1="706.2" x2="1460.6" y2="712"/><line x1="1519" y1="706.2" x2="1519" y2="712"/>
</g>
<g class="ax" text-anchor="end">
<text x="1097" y="569.1">100%</text><text x="1097" y="597.4">80%</text><text x="1097" y="625.7">60%</text><text x="1097" y="654.1">40%</text><text x="1097" y="682.4">20%</text><text x="1097" y="710.7">0%</text>
</g>
<g class="dl" text-anchor="middle">
<text x="1139.2" y="569.6">0</text><text x="1139.2" y="640">100</text>
<text x="1197.6" y="588">26</text><text x="1197.6" y="658.8">74</text>
<text x="1256.1" y="595.8">37</text><text x="1256.1" y="666.6">63</text>
<text x="1314.5" y="600.8">44</text><text x="1314.5" y="671.5">56</text>
<text x="1372.9" y="601.5">45</text><text x="1372.9" y="672.3">55</text>
<text x="1431.4" y="626.3">80</text><text x="1431.4" y="697">20</text>
<text x="1489.8" y="640.4">100</text><text x="1489.8" y="711">0</text>
</g>
<g class="ax" text-anchor="middle">
<text x="1139.2" y="729">Breast</text><text x="1197.6" y="729">Lung</text><text x="1256.1" y="729">GU</text><text x="1314.5" y="729">GI</text><text x="1372.9" y="729">Gyne</text><text x="1431.4" y="729">CNS</text><text x="1489.8" y="729">HN</text>
</g>
<rect x="1530.4" y="631" width="7" height="7" fill="#00998a"/>
<rect x="1530.4" y="650.3" width="7" height="7" fill="url(#yg)"/>
<text class="dl" x="1542" y="639.2">No</text>
<text class="dl" x="1542" y="658.5">Yes</text>

<!-- REASONS TEXT -->
<text class="b" x="1066.2" y="756.5" textLength="361.9" lengthAdjust="spacingAndGlyphs">Reasons for desired change in practice, themed as:</text>
<g font-size="11" fill="#3d468f"><text x="1068" y="772.5">•</text><text x="1068" y="843.2">•</text><text x="1068" y="1090.3">•</text></g>
<g font-size="11" fill="#00998a"><text x="1085" y="790.4">•</text><text x="1085" y="808.6">•</text><text x="1101.5" y="879.9">•</text><text x="1101.5" y="914.9">•</text><text x="1101.5" y="968.1">•</text><text x="1085" y="1108.7">•</text><text x="1085" y="1190.6">•</text><text x="1085" y="1226.4">•</text></g>
<g font-size="11" fill="#3d468f"><text x="1085" y="861.1">•</text><text x="1085" y="949.4">•</text></g>
<text class="h" x="1085" y="773.4" textLength="211" lengthAdjust="spacingAndGlyphs">workload/resource issues:</text>
<text class="q" x="1102.2" y="791.3" textLength="395.1" lengthAdjust="spacingAndGlyphs">“Practice is full - would prefer to stop following after 3 years.”</text>
<text class="q" x="1102.2" y="809.5" textLength="403.8" lengthAdjust="spacingAndGlyphs">“Ideally, I would follow all of my patients.  There is however no</text>
<text class="q" x="1102.2" y="827.1" textLength="306.8" lengthAdjust="spacingAndGlyphs">physical space or time at my institute to do so.”</text>
<text class="h" x="1085" y="844.1" textLength="388.9" lengthAdjust="spacingAndGlyphs">value/efficacy of follow-up by specific providers:</text>
<text class="h" x="1101.2" y="862" textLength="283.4" lengthAdjust="spacingAndGlyphs">oncologist-led follow-up is valuable</text>
<text class="q" x="1117.4" y="880.8" textLength="417.2" lengthAdjust="spacingAndGlyphs">“Follow up care provides the anecdotes that generate academic</text>
<text class="q" x="1117.4" y="897.6" textLength="81.9" lengthAdjust="spacingAndGlyphs">hypotheses”</text>
<text class="q" x="1117.4" y="915.8" textLength="420.4" lengthAdjust="spacingAndGlyphs">“Oncologists don't see enough follow up---we are becoming less</text>
<text class="q" x="1117.4" y="932.9" textLength="254.9" lengthAdjust="spacingAndGlyphs">aware of the outcomes our treatments”</text>
<text class="h" x="1101.2" y="950.3" textLength="372.7" lengthAdjust="spacingAndGlyphs">family physician (FP)-led follow-up is valuable:</text>
<text class="q" x="1117.4" y="969" textLength="397.1" lengthAdjust="spacingAndGlyphs">“The model of a primary physician works best for the patient,</text>
<text class="q" x="1117.4" y="986.5" textLength="417.2" lengthAdjust="spacingAndGlyphs">especially when multiple specialists are involved with a patient's</text>
<text class="q" x="1117.4" y="1003.5" textLength="371.8" lengthAdjust="spacingAndGlyphs">care.  I don't have a background in psychiatry, or general</text>
<text class="q" x="1117.4" y="1021.1" textLength="432.4" lengthAdjust="spacingAndGlyphs">medicine issues, for example. I believe a lot of information I obtain</text>
<text class="q" x="1117.4" y="1038.8" textLength="411.4" lengthAdjust="spacingAndGlyphs">from "routine" follow-up could be more efficiently gathered by a</text>
<text class="q" x="1117.4" y="1056.4" textLength="422.1" lengthAdjust="spacingAndGlyphs">family physician, and the specialist resource could be used more</text>
<text class="q" x="1117.4" y="1073.4" textLength="64.9" lengthAdjust="spacingAndGlyphs">efficiently.</text>
<text class="h" x="1085" y="1091.2" textLength="156.8" lengthAdjust="spacingAndGlyphs">patient satisfaction</text>
<text class="q" x="1102.2" y="1109.6" textLength="421.7" lengthAdjust="spacingAndGlyphs">“Follow-up appointments are costly and inconvenient for patients</text>
<text class="q" x="1102.2" y="1127.2" textLength="223.8" lengthAdjust="spacingAndGlyphs">that need to travel long distances”</text>

<text class="b" x="1066.2" y="1156.5" textLength="467.5" lengthAdjust="spacingAndGlyphs">There was recognition that increased FP follow-up is possible only</text>
<text class="b" x="1066.2" y="1173.6" textLength="25.8" lengthAdjust="spacingAndGlyphs">with</text>
<text class="g" x="1100.6" y="1173.6" textLength="357" lengthAdjust="spacingAndGlyphs">training, guidelines and coordination of care</text>
<text class="b" x="1458" y="1173.6">:</text>
<text class="q" x="1102.2" y="1191.5" textLength="439.5" lengthAdjust="spacingAndGlyphs">“Other providers with proper training and guidelines, should be able</text>
<text class="q" x="1102.2" y="1209.4" textLength="137.6" lengthAdjust="spacingAndGlyphs">to fulfill this function.”</text>
<text class="q" x="1102.2" y="1227.3" textLength="429.8" lengthAdjust="spacingAndGlyphs">“If I knew patients would be followed and screened for toxicity and</text>
<text class="q" x="1102.2" y="1244.7" textLength="390.2" lengthAdjust="spacingAndGlyphs">recurrence, I would pass on follow-up. There is a lack of co-</text>
<text class="q" x="1102.2" y="1262.6" textLength="281.4" lengthAdjust="spacingAndGlyphs">ordination and few survivorship resources.”</text>

<!-- CONCLUSION -->
<text class="b" x="1066.2" y="1334.6" textLength="24" lengthAdjust="spacingAndGlyphs">The</text>
<text class="h" x="1096.3" y="1334.6" textLength="332.8" lengthAdjust="spacingAndGlyphs">majority of ROs would follow the patients</text>
<text class="b" x="1434" y="1334.6" textLength="93" lengthAdjust="spacingAndGlyphs">in the clinical</text>
<text class="b" x="1066.2" y="1352.3" textLength="386.6" lengthAdjust="spacingAndGlyphs">scenarios presented, apart from breast cancer. Despite</text>
<text class="h" x="1455.7" y="1352.3" textLength="43.3" lengthAdjust="spacingAndGlyphs">some</text>
<text class="h" x="1066.2" y="1370.1" textLength="286.6" lengthAdjust="spacingAndGlyphs">variation in routine follow-up timing</text>
<text class="b" x="1352.8" y="1370.1" textLength="132.5" lengthAdjust="spacingAndGlyphs">, there was general</text>
<text class="b" x="1066.2" y="1387.8" textLength="469.1" lengthAdjust="spacingAndGlyphs">agreement in the specific content of follow-up. However, a majority</text>
<text class="b" x="1066.2" y="1405.6" textLength="372.6" lengthAdjust="spacingAndGlyphs">would decrease their follow-up frequency because of</text>
<text class="h" x="1443" y="1405.6" textLength="74.4" lengthAdjust="spacingAndGlyphs">workload</text>
<text class="h" x="1066.2" y="1423.3" textLength="227.2" lengthAdjust="spacingAndGlyphs">burden, resource limitations</text>
<text class="b" x="1298.3" y="1423.3" textLength="200.7" lengthAdjust="spacingAndGlyphs">and a belief that there can or</text>
<text class="b" x="1066.2" y="1441.1" textLength="66.8" lengthAdjust="spacingAndGlyphs">should be</text>
<text class="h" x="1139.5" y="1441.1" textLength="257.8" lengthAdjust="spacingAndGlyphs">increased involvement from FPs</text>
<text class="b" x="1403" y="1441.1" textLength="108.9" lengthAdjust="spacingAndGlyphs">and other allied</text>
<text class="b" x="1066.2" y="1458.8" textLength="456" lengthAdjust="spacingAndGlyphs">health care providers. In order for this transfer of care to happen,</text>
<text class="h" x="1066.2" y="1476.6" textLength="449.4" lengthAdjust="spacingAndGlyphs">evidence-based guidelines, training and coordination of</text>
<text class="h" x="1066.2" y="1494.3" textLength="35" lengthAdjust="spacingAndGlyphs">care</text>
<text class="b" x="1107" y="1494.3" textLength="50" lengthAdjust="spacingAndGlyphs">is vital.</text>
</svg>
</body></html>
